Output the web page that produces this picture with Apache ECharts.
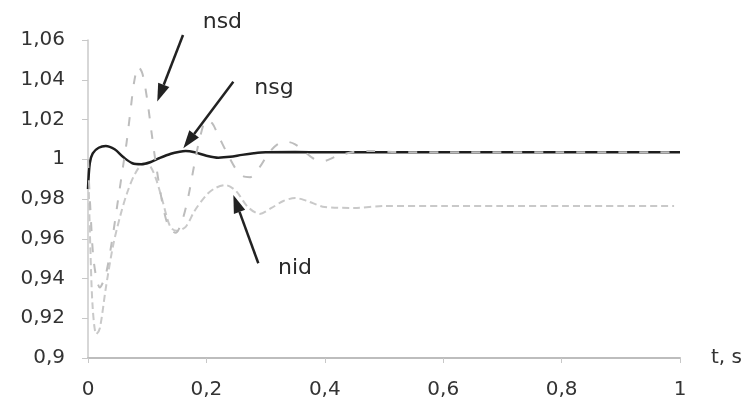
<!DOCTYPE html>
<html>
<head>
<meta charset="utf-8">
<script src="https://cdn.jsdelivr.net/npm/echarts@6/dist/echarts.min.js"></script>
<style>
html,body{margin:0;padding:0;background:#fff;}
#c{width:749px;height:409px;}
</style>
</head>
<body>
<div id="c"></div>
<script>
// ---- data (t in s, speed in p.u.) ----
var tNsg = [0, 0.003, 0.008, 0.018, 0.03, 0.045, 0.06, 0.075, 0.09, 0.105, 0.12, 0.14, 0.155, 0.165, 0.18, 0.2, 0.22, 0.24, 0.26, 0.28, 0.3, 0.35, 0.4, 0.5, 0.6, 0.7, 0.8, 0.9, 1.0];
var vNsg = [0.985, 0.998, 1.003, 1.0058, 1.0067, 1.005, 1.001, 0.998, 0.9975, 0.9985, 1.0005, 1.0028, 1.0038, 1.0041, 1.0035, 1.0018, 1.0008, 1.0012, 1.0022, 1.003, 1.0035, 1.0036, 1.0035, 1.0035, 1.0035, 1.0035, 1.0035, 1.0035, 1.0035];

var tNsd = [0, 0.004, 0.01, 0.02, 0.03, 0.04, 0.05, 0.06, 0.065, 0.072, 0.078, 0.085, 0.092, 0.1, 0.108, 0.115, 0.125, 0.135, 0.148, 0.16, 0.17, 0.18, 0.19, 0.2, 0.21, 0.22, 0.235, 0.25, 0.262, 0.274, 0.29, 0.305, 0.32, 0.336, 0.35, 0.365, 0.38, 0.397, 0.42, 0.45, 0.48, 0.52, 0.6, 0.7, 0.8, 0.9, 1.0];
var vNsd = [1.0, 0.975, 0.948, 0.9355, 0.942, 0.958, 0.978, 0.998, 1.008, 1.025, 1.039, 1.0466, 1.043, 1.03, 1.012, 0.997, 0.979, 0.967, 0.963, 0.97, 0.982, 0.998, 1.012, 1.0197, 1.018, 1.012, 1.003, 0.995, 0.9915, 0.991, 0.996, 1.003, 1.0075, 1.0088, 1.0075, 1.004, 1.0005, 0.999, 1.0015, 1.0038, 1.0042, 1.0036, 1.0035, 1.0035, 1.0035, 1.0035, 1.0035];

var tNid = [0, 0.004, 0.008, 0.014, 0.02, 0.03, 0.042, 0.054, 0.066, 0.08, 0.095, 0.105, 0.115, 0.125, 0.139, 0.15, 0.165, 0.18, 0.2, 0.215, 0.232, 0.25, 0.27, 0.29, 0.31, 0.33, 0.35, 0.37, 0.4, 0.45, 0.5, 0.6, 0.7, 0.8, 0.9, 0.99];
var vNid = [1.0, 0.955, 0.925, 0.912, 0.915, 0.935, 0.956, 0.971, 0.983, 0.993, 0.998, 0.9965, 0.99, 0.98, 0.966, 0.964, 0.966, 0.974, 0.982, 0.9855, 0.987, 0.984, 0.976, 0.9725, 0.9755, 0.979, 0.9805, 0.979, 0.976, 0.9755, 0.9765, 0.9765, 0.9765, 0.9765, 0.9765, 0.9765];

// annotation texts and arrows, in data coordinates [t, value]
var labelNames = ['nsd', 'nsg', 'nid'];
var labelPos = [[0.227, 1.069], [0.3142, 1.0358], [0.3497, 0.9453]];
var arrowTail = [[0.1605, 1.0625], [0.2455, 1.039], [0.2877, 0.9477]];
var arrowHead = [[0.117, 1.029], [0.161, 1.0055], [0.2455, 0.982]];

var xTicks = [0, 0.2, 0.4, 0.6, 0.8, 1];
var yMin = 0.9, yMax = 1.06, yStep = 0.02;

function pairs(t, v) { return t.map(function (x, i) { return [x, v[i]]; }); }
function fmt(v) { return String(parseFloat(v.toFixed(2))).replace('.', ','); }

var FONT = 'DejaVu Sans';
var chart = echarts.init(document.getElementById('c'), null, { renderer: 'canvas' });
var option = {
  backgroundColor: '#ffffff',
  animation: false,
  grid: { left: 88, right: 69, top: 40, bottom: 51 },
  xAxis: {
    type: 'value', min: 0, max: 1, interval: 0.2,
    name: 't, s', nameLocation: 'end', nameGap: 31,
    nameTextStyle: { fontFamily: FONT, fontSize: 20, color: '#333', verticalAlign: 'middle' },
    axisLine: { show: true, onZero: false, lineStyle: { color: '#bdbdbd', width: 2 } },
    axisTick: { show: true, inside: false, length: 5, lineStyle: { color: '#c8c8c8', width: 1 } },
    axisLabel: { margin: 22, fontFamily: FONT, fontSize: 20, color: '#333', formatter: fmt },
    splitLine: { show: false }
  },
  yAxis: {
    type: 'value', min: yMin, max: yMax, interval: yStep,
    axisLine: { show: true, lineStyle: { color: '#cacaca', width: 1.5 } },
    axisTick: { show: true, inside: false, length: 6, lineStyle: { color: '#c8c8c8', width: 1 } },
    axisLabel: { margin: 23, fontFamily: FONT, fontSize: 20, color: '#333', formatter: fmt },
    splitLine: { show: false }
  },
  series: [
    { name: 'nid', type: 'line', data: pairs(tNid, vNid), showSymbol: false, smooth: 0.3, z: 2,
      lineStyle: { color: '#c9c9c9', width: 2, type: [7, 4] } },
    { name: 'nsg', type: 'line', data: pairs(tNsg, vNsg), showSymbol: false, smooth: 0.3, z: 3,
      lineStyle: { color: '#1e1e1e', width: 2.5 } },
    { name: 'nsd', type: 'line', data: pairs(tNsd, vNsd), showSymbol: false, smooth: 0.3, z: 4,
      lineStyle: { color: '#bdbdbd', width: 2, type: [9, 12] } }
  ]
};
chart.setOption(option);

// annotations placed through the chart's own coordinate conversion
var g = [];
for (var i = 0; i < labelNames.length; i++) {
  var p = chart.convertToPixel({ gridIndex: 0 }, labelPos[i]);
  g.push({ type: 'text', x: p[0], y: p[1], z: 10,
    style: { text: labelNames[i], fontFamily: FONT, fontSize: 22, fill: '#2a2a2a', align: 'center', verticalAlign: 'middle' } });
  var a = chart.convertToPixel({ gridIndex: 0 }, arrowTail[i]);
  var b = chart.convertToPixel({ gridIndex: 0 }, arrowHead[i]);
  var dx = b[0] - a[0], dy = b[1] - a[1], L = Math.sqrt(dx * dx + dy * dy);
  var ux = dx / L, uy = dy / L, hl = 18, hw = 6;
  var bx = b[0] - ux * hl, by = b[1] - uy * hl;
  g.push({ type: 'line', z: 10, shape: { x1: a[0], y1: a[1], x2: bx, y2: by },
    style: { stroke: '#222', lineWidth: 2.5 } });
  g.push({ type: 'polygon', z: 10, shape: { points: [[b[0], b[1]], [bx - uy * hw, by + ux * hw], [bx + uy * hw, by - ux * hw]] },
    style: { fill: '#222' } });
}
chart.setOption({ graphic: g });
</script>
</body>
</html>
